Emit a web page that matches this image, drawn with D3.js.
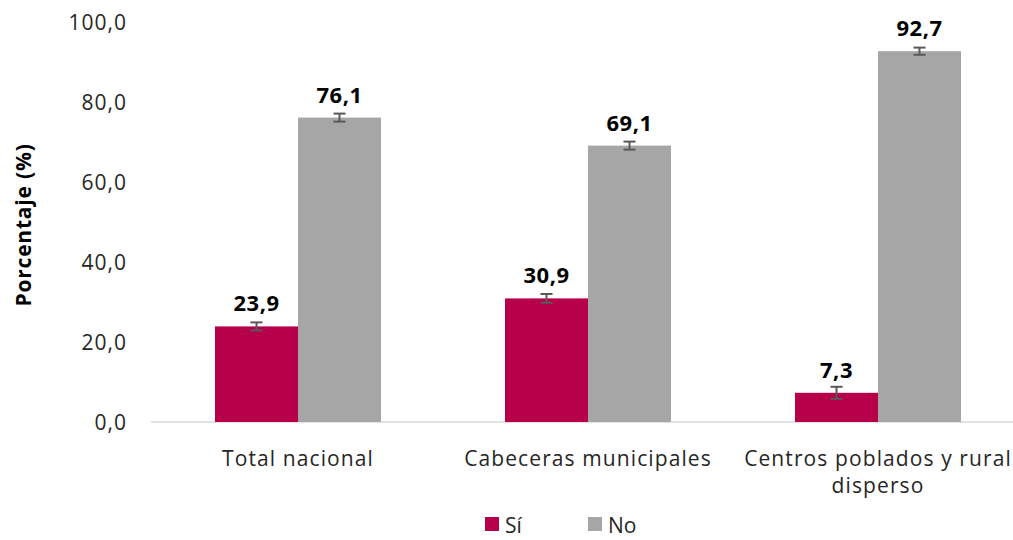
<!DOCTYPE html>
<html><head><meta charset="utf-8">
<script src="https://cdn.jsdelivr.net/npm/d3@7"></script>
<style>body{margin:0;background:#fff}svg{display:block}</style>
</head><body><svg id="c" width="1013" height="540"></svg>
<script>
const categories = ["Total nacional", "Cabeceras municipales", "Centros poblados y rural disperso"];
const categoryLines = [["Total nacional"], ["Cabeceras municipales"], ["Centros poblados y rural", "disperso"]];
const series = ["Sí", "No"];
const siValues = [23.9, 30.9, 7.3];
const noValues = [76.1, 69.1, 92.7];
const siErrors = [1.0, 1.1, 1.5];
const noErrors = [1.0, 1.0, 0.9];
const yTicks = [0, 20, 40, 60, 80, 100];
const colors = {"Sí": "#b7004a", "No": "#a6a6a6"};

const svg = d3.select("#c");
const font = "'Open Sans', 'Noto Sans', sans-serif";
const x0 = d3.scaleBand().domain(categories).range([153, 1023]).paddingInner(0).paddingOuter(0);
const y = d3.scaleLinear().domain([0, 100]).range([422, 22]);
const barW = 83;
const x1 = d3.scaleBand().domain(series).range([0, 2 * barW]);

// axis line
svg.append("line").attr("x1", 151).attr("x2", 1013).attr("y1", y(0)).attr("y2", y(0))
  .attr("stroke", "#d9d9d9").attr("stroke-width", 1.5);

// y tick labels
const yAxis = d3.axisLeft(y).tickValues(yTicks).tickSize(0).tickPadding(0)
  .tickFormat(d => d3.format(".1f")(d).replace(".", ","));
const ga = svg.append("g").attr("transform", "translate(127,0)").call(yAxis);
ga.select(".domain").remove();
ga.selectAll("text").attr("font-family", font).attr("font-size", 21).attr("letter-spacing", 1)
  .attr("fill", "#262626").attr("dy", "0.35em");

// y title
svg.append("text").attr("transform", "translate(31,225) rotate(-90)").attr("text-anchor", "middle")
  .attr("font-family", font).attr("font-size", 21).attr("font-weight", "bold").attr("letter-spacing", 0.8)
  .attr("fill", "#000").text("Porcentaje (%)");

const data = categories.map((c, i) => ({c, i, vals: [
  {s: "Sí", v: siValues[i], e: siErrors[i]},
  {s: "No", v: noValues[i], e: noErrors[i]}]}));

const groups = svg.selectAll("g.grp").data(data).join("g").attr("class", "grp")
  .attr("transform", d => `translate(${x0(d.c) + x0.bandwidth() / 2 - barW},0)`);

const bars = groups.selectAll("g.b").data(d => d.vals).join("g").attr("class", "b");
bars.append("rect").attr("x", d => x1(d.s)).attr("width", x1.bandwidth())
  .attr("y", d => y(d.v)).attr("height", d => y(0) - y(d.v)).attr("fill", d => colors[d.s]);
// error bars
bars.each(function(d) {
  const g = d3.select(this), cx = x1(d.s) + x1.bandwidth() / 2;
  g.append("line").attr("x1", cx).attr("x2", cx).attr("y1", y(d.v + d.e)).attr("y2", y(d.v - d.e))
    .attr("stroke", "#595959").attr("stroke-width", 2);
  [d.v + d.e, d.v - d.e].forEach(v => g.append("line").attr("x1", cx - 6).attr("x2", cx + 6)
    .attr("y1", y(v)).attr("y2", y(v)).attr("stroke", "#595959").attr("stroke-width", 2));
});
bars.append("text").attr("x", d => x1(d.s) + x1.bandwidth() / 2).attr("y", d => y(d.v) - 15)
  .attr("text-anchor", "middle").attr("font-family", font).attr("font-size", 22).attr("font-weight", "bold")
  .attr("letter-spacing", 0.5).attr("fill", "#000").text(d => d3.format(".1f")(d.v).replace(".", ","));

// category labels
data.forEach(d => {
  categoryLines[d.i].forEach((t, k) => {
    svg.append("text").attr("x", x0(d.c) + x0.bandwidth() / 2).attr("y", 466 + k * 27)
      .attr("text-anchor", "middle").attr("font-family", font).attr("font-size", 21).attr("letter-spacing", 1.1)
      .attr("fill", "#262626").text(t);
  });
});

// legend
const legX = [485, 588];
series.forEach((s, i) => {
  svg.append("rect").attr("x", legX[i]).attr("y", 517).attr("width", 14).attr("height", 14).attr("fill", colors[s]);
  svg.append("text").attr("x", legX[i] + 20).attr("y", 533).attr("font-family", font).attr("font-size", 21)
    .attr("fill", "#262626").text(s);
});
</script></body></html>
